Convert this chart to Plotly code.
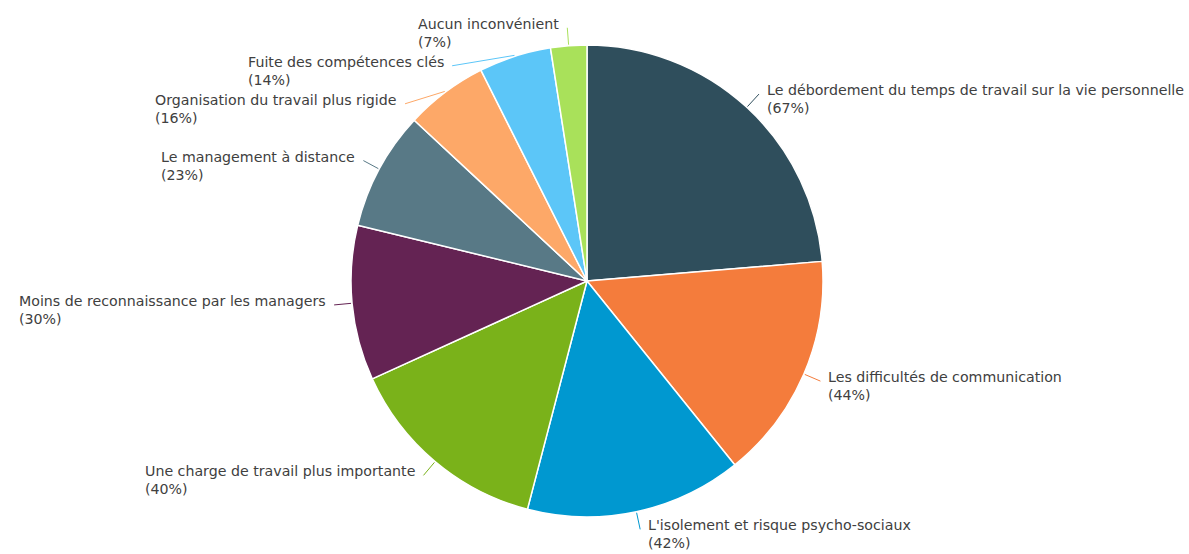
import math
import plotly.graph_objects as go

labels = [
    "Le débordement du temps de travail sur la vie personnelle",
    "Les difficultés de communication",
    "L'isolement et risque psycho-sociaux",
    "Une charge de travail plus importante",
    "Moins de reconnaissance par les managers",
    "Le management à distance",
    "Organisation du travail plus rigide",
    "Fuite des compétences clés",
    "Aucun inconvénient",
]
values = [67, 44, 42, 40, 30, 23, 16, 14, 7]
colors = ["#2F4E5C", "#F47C3C", "#0098D0", "#7AB21A", "#642353",
          "#587986", "#FDA868", "#5CC6F8", "#A9E15A"]

W, H = 1189, 554
cx, cy, r = 587, 281, 236
R = r + 18
MIN_GAP = 38
TEXT_COLOR = "#404040"
FONT = "DejaVu Sans"

fig = go.Figure(go.Pie(
    labels=labels, values=values, sort=False, direction="clockwise", rotation=0,
    marker=dict(colors=colors, line=dict(color="white", width=1.5)),
    textinfo="none", hoverinfo="label+value",
    domain=dict(x=[(cx - r) / W, (cx + r) / W], y=[1 - (cy + r) / H, 1 - (cy - r) / H]),
))

total = sum(values)
items = []
cum = 0
for i, v in enumerate(values):
    mid = math.radians((cum + v / 2) / total * 360)
    cum += v
    s, c = math.sin(mid), math.cos(mid)
    items.append(dict(i=i, ex=cx + (r + 1) * s, ey=cy - (r + 1) * c,
                      ny=cy - R * c, side=1 if s >= 0 else -1))

for side in (1, -1):
    grp = sorted([it for it in items if it["side"] == side], key=lambda d: d["ny"])
    prev = -1e9
    for it in grp:
        y = max(it["ny"], prev + MIN_GAP)
        it["y"] = y
        prev = y
        it["x"] = cx + side * math.sqrt(max(R * R - (y - cy) ** 2, 0))

def px(x):
    return x / W

def py(y):
    return 1 - y / H

shapes = []
annotations = []
for it in items:
    i = it["i"]
    shapes.append(dict(type="line", xref="paper", yref="paper",
                       x0=px(it["ex"]), y0=py(it["ey"]), x1=px(it["x"]), y1=py(it["y"]),
                       line=dict(color=colors[i], width=1)))
    annotations.append(dict(
        xref="paper", yref="paper",
        x=px(it["x"] + it["side"] * 6), y=py(it["y"] + 5),
        xanchor="left" if it["side"] > 0 else "right", yanchor="middle",
        align="left", showarrow=False,
        text=f"{labels[i]}<br>({values[i]}%)",
        font=dict(family=FONT, size=14.2, color=TEXT_COLOR),
    ))

fig.update_layout(
    width=W, height=H, margin=dict(l=0, r=0, t=0, b=0),
    paper_bgcolor="white", plot_bgcolor="white", showlegend=False,
    shapes=shapes, annotations=annotations,
    font=dict(family=FONT, color=TEXT_COLOR),
)

fig.write_html("out.html")
